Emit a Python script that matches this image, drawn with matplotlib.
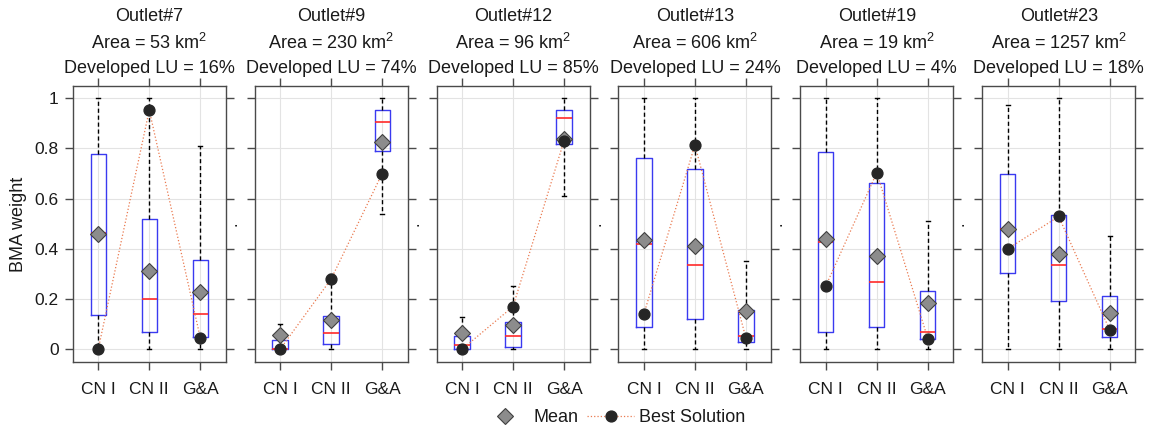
import numpy as np
import matplotlib.pyplot as plt
from matplotlib.lines import Line2D

plt.rcParams['font.family'] = ['Liberation Sans', 'DejaVu Sans']
plt.rcParams['mathtext.fontset'] = 'custom'
plt.rcParams['mathtext.rm'] = 'Liberation Sans'
plt.rcParams['font.size'] = 12

# outlet info
outlets = ['Outlet#7', 'Outlet#9', 'Outlet#12', 'Outlet#13', 'Outlet#19', 'Outlet#23']
areas = [53, 230, 96, 606, 19, 1257]
developed = [16, 74, 85, 24, 4, 18]
models = ['CN I', 'CN II', 'G&A']

# BMA weight summaries per outlet (CN I, CN II, G&A)
whislo = [[0, 0, 0], [0, 0, 0.54], [0, 0, 0.61],
          [0, 0, 0], [0, 0, 0], [0, 0, 0]]
q1 = [[0.135, 0.068, 0.05], [0.0, 0.022, 0.79], [0.0, 0.009, 0.817],
      [0.089, 0.121, 0.027], [0.069, 0.09, 0.042], [0.303, 0.193, 0.049]]
med = [[0.465, 0.2, 0.14], [0.002, 0.065, 0.905], [0.015, 0.052, 0.92],
       [0.418, 0.335, 0.054], [0.429, 0.267, 0.07], [0.479, 0.335, 0.082]]
q3 = [[0.78, 0.52, 0.355], [0.037, 0.133, 0.953], [0.053, 0.108, 0.953],
      [0.764, 0.717, 0.155], [0.785, 0.661, 0.231], [0.699, 0.533, 0.211]]
whishi = [[1, 1, 0.81], [0.1, 0.3, 1.0], [0.13, 0.252, 1.0],
          [1, 1, 0.352], [1, 1, 0.513], [0.973, 1, 0.453]]
mean = [[0.46, 0.31, 0.228], [0.057, 0.116, 0.825], [0.064, 0.097, 0.839],
        [0.436, 0.412, 0.153], [0.44, 0.373, 0.183], [0.478, 0.378, 0.145]]
best = [[0.0, 0.953, 0.046], [0.0, 0.28, 0.7], [0.0, 0.17, 0.831],
        [0.141, 0.814, 0.044], [0.252, 0.704, 0.042], [0.4, 0.529, 0.077]]

txt = '#1a1a1a'
frame = '#4a4a4a'
box_blue = '#3a3af0'
med_red = '#ff2a2a'
best_line = '#ea7a50'

fig = plt.figure(figsize=(11.49, 4.29), dpi=100)

left0, width, step = 0.0633, 0.1332, 0.1583
bottom, height = 0.1555, 0.644
pos = [1, 2, 3]

for i, name in enumerate(outlets):
    ax = fig.add_axes([left0 + i * step, bottom, width, height])

    stats = []
    for j, m in enumerate(models):
        stats.append(dict(label=m, whislo=whislo[i][j], q1=q1[i][j], med=med[i][j],
                          q3=q3[i][j], whishi=whishi[i][j], mean=mean[i][j], fliers=[]))

    ax.bxp(stats, positions=pos, widths=0.3, capwidths=0.08,
           showmeans=True, meanline=False,
           boxprops=dict(color=box_blue, lw=1.0),
           medianprops=dict(color=med_red, lw=1.2),
           whiskerprops=dict(color='black', lw=1.0, ls=(0, (3, 2))),
           capprops=dict(color='black', lw=1.0),
           meanprops=dict(marker='D', markersize=8.5, markerfacecolor='#8c8c8c',
                          markeredgecolor='#404040', markeredgewidth=0.8),
           manage_ticks=False, zorder=3)

    ax.plot(pos, best[i], ls=':', lw=0.9, color=best_line, marker='o', ms=7.8,
            markerfacecolor='#262626', markeredgecolor='#262626', zorder=5)

    ax.set_xlim(0.5, 3.5)
    ax.set_ylim(-0.052, 1.049)
    ax.set_xticks(pos)
    ax.set_xticklabels(models)
    ax.set_yticks(np.arange(0, 1.01, 0.2))
    ax.set_yticklabels(['0', '0.2', '0.4', '0.6', '0.8', '1'])
    ax.grid(True, color='#e3e3e3', lw=0.8, zorder=0)
    ax.set_axisbelow(True)

    for s in ax.spines.values():
        s.set_color(frame)
        s.set_linewidth(1.0)

    ax.tick_params(axis='both', direction='out', length=6, width=1.0, color=frame,
                   labelcolor=txt, top=True, right=True, labelsize=12.5)
    ax.tick_params(axis='x', pad=8.5)
    ax.tick_params(axis='y', pad=4)

    if i == 0:
        ax.set_ylabel('BMA weight', color=txt, fontsize=13)
        ax.yaxis.set_label_coords(-0.30, 0.5)
    else:
        ax.tick_params(axis='y', labelleft=False)
        ax.set_ylabel('.', color=txt, fontsize=12)
        ax.yaxis.set_label_coords(-0.10, 0.5)

    # three-line panel heading
    ax.text(0.5, 1.25, name, transform=ax.transAxes, ha='center', va='center',
            color=txt, fontsize=13)
    ax.text(0.5, 1.157, 'Area = %d km$^2$' % areas[i], transform=ax.transAxes,
            ha='center', va='center', color=txt, fontsize=13)
    ax.text(0.5, 1.065, 'Developed LU = %d%%' % developed[i], transform=ax.transAxes,
            ha='center', va='center', color=txt, fontsize=13)

handles = [
    Line2D([], [], ls='none', marker='D', ms=8.5, markerfacecolor='#8c8c8c',
           markeredgecolor='#404040', markeredgewidth=0.8),
    Line2D([], [], ls=':', lw=0.9, color=best_line, marker='o', ms=7.8,
           markerfacecolor='#262626', markeredgecolor='#262626'),
]
fig.legend(handles, ['Mean', 'Best Solution'], loc='center', ncol=2,
           bbox_to_anchor=(0.534, 0.027), frameon=False, fontsize=13,
           handlelength=2.6, columnspacing=0.5, handletextpad=0.25,
           labelcolor=txt)

fig.savefig('out.png', dpi=100)
